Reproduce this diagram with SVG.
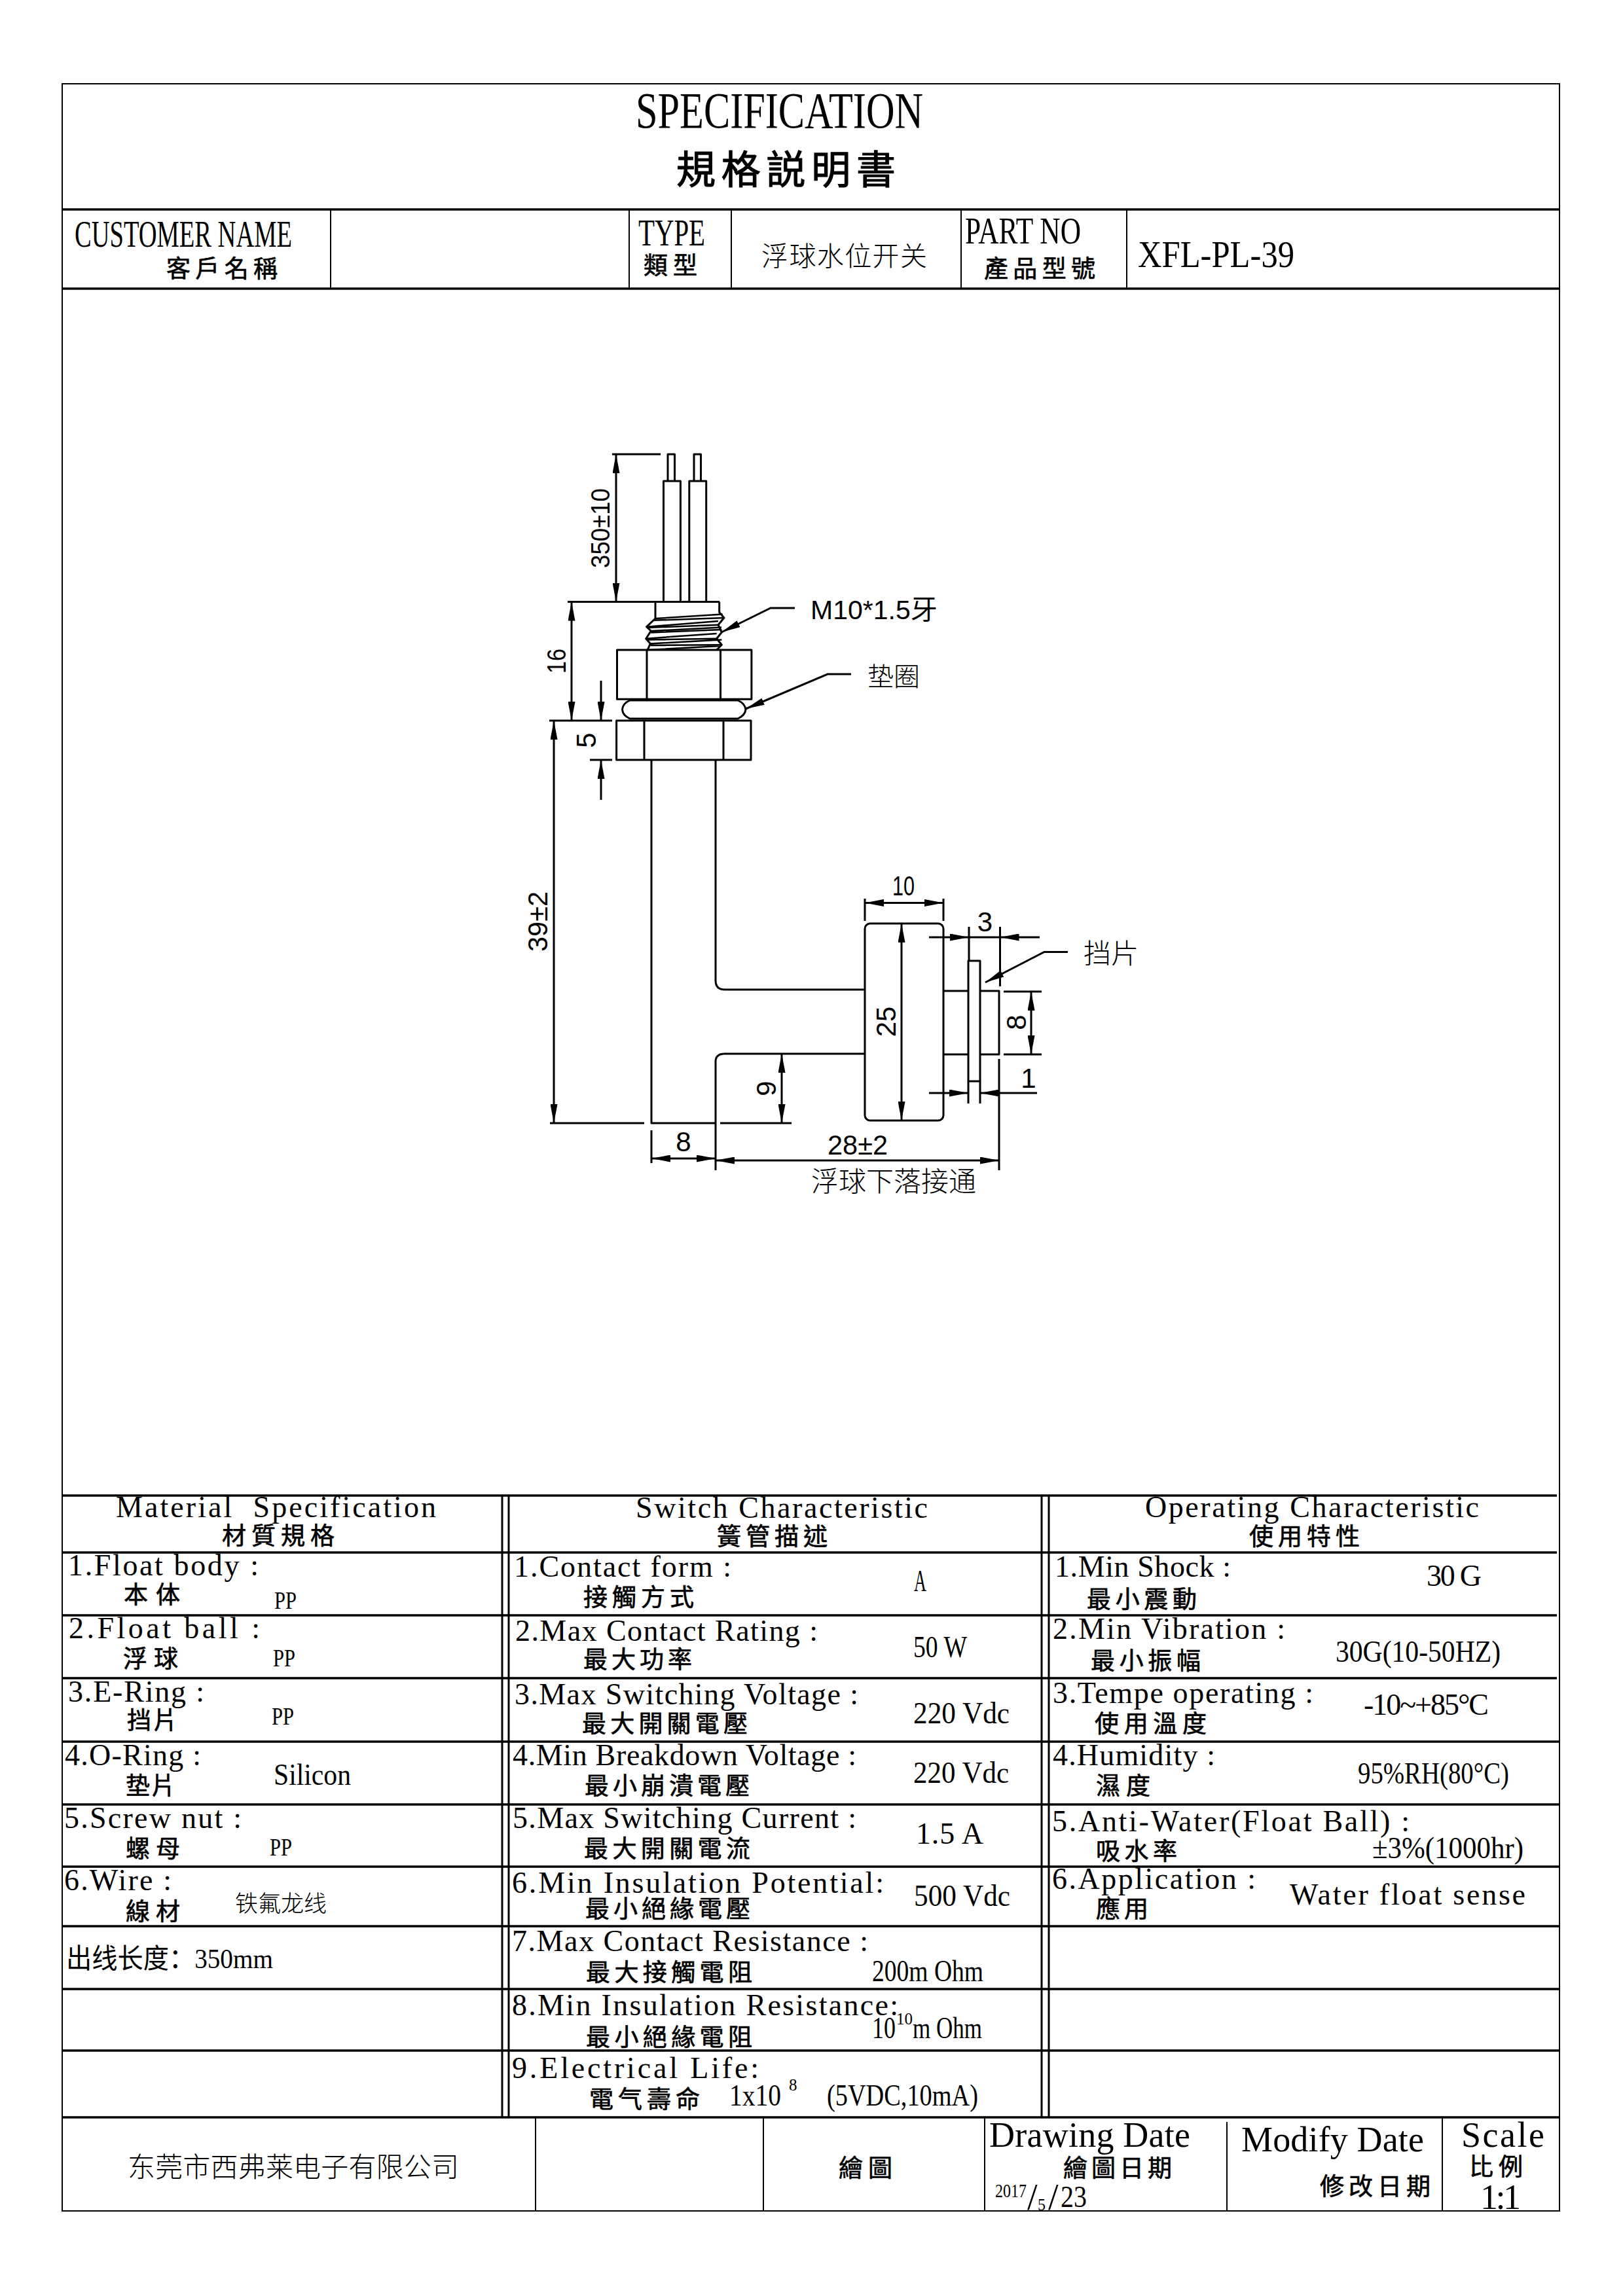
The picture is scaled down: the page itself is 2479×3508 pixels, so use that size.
<svg xmlns="http://www.w3.org/2000/svg" width="2479" height="3508" viewBox="0 0 2479 3508">
<style>
text{fill:#000}
.l{font-family:"Liberation Serif","Noto Sans CJK TC",serif;font-size:46px}
.cap{font-family:"Liberation Serif","Noto Sans CJK SC",serif;font-size:56px}
.big{font-family:"Liberation Serif","Noto Sans CJK TC",serif;font-size:54px}
.pp{font-family:"Liberation Serif",serif;font-size:38px}
.sup{font-family:"Liberation Serif",serif;font-size:25px}
.c{font-family:"Noto Sans CJK TC",sans-serif;font-size:37px;stroke:#000;stroke-width:.7px}
.t{font-family:"Noto Sans CJK SC",sans-serif;font-size:41px;font-weight:300}
.d{font-family:"Liberation Sans",sans-serif;font-size:37px}
.e{font-family:"Liberation Sans",sans-serif;font-size:42px}
.dc{font-family:"Liberation Sans","Noto Sans CJK SC",sans-serif;font-size:41px}
.g{fill:none;stroke:#000;stroke-width:2}
.g3{fill:none;stroke:#000;stroke-width:3.5}
.p{fill:none;stroke:#000;stroke-width:3;stroke-linejoin:round}
.dm{fill:none;stroke:#000;stroke-width:3}
.ar{marker-end:url(#a)}
.ar2{marker-start:url(#a);marker-end:url(#a)}
</style>
<defs>
<marker id="a" viewBox="0 0 29 11" refX="29" refY="5.5" markerWidth="29" markerHeight="11" markerUnits="userSpaceOnUse" orient="auto-start-reverse"><path d="M0 0L29 5.5L0 11Z" fill="#000"/></marker>
</defs>
<rect width="2479" height="3508" fill="#fff"/>

<g id="frame">
<rect class="g" x="95" y="128" width="2287" height="3250"/>
<path class="g3" d="M95 320H2382M95 441H2382"/>
<path class="g" d="M505 320V441M961 320V441M1117 320V441M1468 320V441M1721 320V441"/>
<path class="g3" d="M95 2285H2378M95 2372H2378M95 2468H2378M95 2564H2378M95 2661H2382M95 2757H2382M95 2852H2382M95 2943H2382M95 3039H2382M95 3133H2382M95 3235H2382"/>
<path class="dm" d="M767 2285V3235M777 2285V3235M1591 2285V3235M1602 2285V3235"/>
<path class="g" d="M818 3235V3378M1166 3235V3378M1504 3235V3378M1874 3242V3378M2203 3235V3378"/>
</g>

<g id="header-text">
<text class="cap" x="971" y="195" style="font-size:78px" textLength="439" lengthAdjust="spacingAndGlyphs">SPECIFICATION</text>
<text class="c" x="1033" y="281" style="font-size:60px;stroke-width:1.2px" textLength="335" lengthAdjust="spacing">規格説明書</text>
<text class="cap" x="114" y="377" textLength="332" lengthAdjust="spacingAndGlyphs">CUSTOMER NAME</text>
<text class="c" x="254" y="424" textLength="170" lengthAdjust="spacing">客戶名稱</text>
<text class="cap" x="975" y="375" textLength="102" lengthAdjust="spacingAndGlyphs">TYPE</text>
<text class="c" x="983" y="419" textLength="82" lengthAdjust="spacing">類型</text>
<text class="t" x="1163" y="406" textLength="253" lengthAdjust="spacing">浮球水位开关</text>
<text class="cap" x="1474" y="372" textLength="177" lengthAdjust="spacingAndGlyphs">PART NO</text>
<text class="c" x="1503" y="424" textLength="170" lengthAdjust="spacing">產品型號</text>
<text class="cap" x="1738" y="408" style="font-size:58px" textLength="239" lengthAdjust="spacingAndGlyphs">XFL-PL-39</text>
</g>

<g id="drawing">
<path class="p" d="M1020 735V694H1030.500V735M1060 735V694H1070.500V735"/>
<path class="p" d="M1013.500 919.500V735H1039.400V919.500M1052.800 919.500V735H1078.700V919.500"/>
<path class="p" d="M867 919.500H1099M1001 919.500V945L987.600 957.700L994.300 964L986.700 975.700L993.400 983.400L989 993M1098.700 919.500V935.500L1105.900 944L1097 954.700L1102.300 966L1094.700 975.700L1102.300 985.300L1094.700 993"/>
<path class="p" style="stroke-width:2.500" d="M1001 945L1103.700 938.600M998.800 947.800L1105.900 944M987.600 957.700L1097 949M989 959L1097 954.700M994.300 964L1102 958.500M994.300 966.500L1102.300 962M986.700 975.700L1094.700 968M987.600 977.600L1094.700 975.700M993.400 983.400L1102.300 977.600M993.400 986L1102.300 985.300M989.800 993L1100 987"/>
<rect class="p" x="942.500" y="993" width="205.400" height="75.300"/>
<path class="p" d="M988 993V1068.300M1100.500 993V1068.300"/>
<path class="p" d="M962 1070H1127Q1138 1075 1139 1084Q1138 1093 1127 1098H962Q951 1093 950.500 1084Q951 1075 962 1070Z"/>
<rect class="p" x="941.600" y="1101" width="205.400" height="60"/>
<path class="p" d="M984 1101V1161M1105 1101V1161"/>
<path class="p" d="M995 1161V1716H1093M1093 1161V1498Q1093 1512 1107 1512H1320M1320 1610H1107Q1093 1610 1093 1622V1788"/>
<rect class="p" x="1321" y="1411" width="120" height="301" rx="8"/>
<path class="p" d="M1441 1514H1479M1497 1514H1526V1611H1497M1479 1611H1441"/>
<rect class="p" x="1479" y="1468" width="18" height="184"/>
</g>

<g id="dimensions">
<path class="dm" d="M935 694H1009M840 1716H984M1100 1716H1209M839 1101H935M901 1161H935M1533 1515H1591M1533 1611H1591"/>
<path class="dm" d="M1321 1373V1407M1441 1373V1407M1480 1416V1468M1527.500 1416V1507M1526 1618V1788M1479 1652V1686M1497 1652V1686M995 1727V1777"/>
<path class="dm ar2" d="M941 694V919.500"/>
<path class="dm ar2" d="M873 919.500V1101"/>
<path class="dm ar" d="M918 1040V1101"/>
<path class="dm ar" d="M918 1222V1161"/>
<path class="dm ar2" d="M846 1101V1716"/>
<path class="dm ar2" d="M1321 1379.400H1441"/>
<path class="dm ar2" d="M1377 1411V1712"/>
<path class="dm ar2" d="M1194 1610V1716"/>
<path class="dm ar2" d="M1575 1515V1611"/>
<path class="dm ar" d="M1419 1432H1480"/>
<path class="dm ar" d="M1588 1432H1527.500"/>
<path class="dm" d="M1480 1432H1527.500"/>
<path class="dm ar" d="M1419 1670H1479"/>
<path class="dm ar" d="M1584 1670H1497"/>
<path class="dm ar2" d="M995 1770H1093"/>
<path class="dm ar2" d="M1093 1773H1526"/>
<path class="dm ar" d="M1214 929H1177L1102 966"/>
<path class="dm ar" d="M1300 1030H1264L1139 1083"/>
<path class="dm ar" d="M1631 1454.500H1595L1505 1501"/>
<text class="d" text-anchor="middle" transform="translate(931 807) rotate(-90)" style="font-size:40px" textLength="122" lengthAdjust="spacingAndGlyphs">350±10</text>
<text class="d" text-anchor="middle" transform="translate(864 1010) rotate(-90)" style="font-size:40px" textLength="38" lengthAdjust="spacingAndGlyphs">16</text>
<text class="e" text-anchor="middle" transform="translate(910 1131) rotate(-90)">5</text>
<text class="e" text-anchor="middle" transform="translate(836 1408) rotate(-90)" textLength="92" lengthAdjust="spacingAndGlyphs">39±2</text>
<text class="e" text-anchor="middle" transform="translate(1368 1561) rotate(-90)">25</text>
<text class="e" text-anchor="middle" transform="translate(1185 1663) rotate(-90)">9</text>
<text class="e" text-anchor="middle" transform="translate(1567 1562) rotate(-90)">8</text>
<text class="e" text-anchor="middle" x="1380" y="1368" textLength="34" lengthAdjust="spacingAndGlyphs">10</text>
<text class="e" text-anchor="middle" x="1504.500" y="1423">3</text>
<text class="e" text-anchor="middle" x="1571" y="1662">1</text>
<text class="e" text-anchor="middle" x="1044" y="1759">8</text>
<text class="e" text-anchor="middle" x="1310" y="1764" textLength="92" lengthAdjust="spacingAndGlyphs">28±2</text>
<text class="dc" x="1238" y="946">M10*1.5牙</text>
<text class="t" x="1325" y="1048" style="font-size:40px">垫圈</text>
<text class="t" x="1655" y="1472" style="font-size:42px">挡片</text>
<text class="t" x="1239" y="1820" style="font-size:42px">浮球下落接通</text>
</g>

<g id="material">
<text class="l" x="177" y="2318" textLength="489" lengthAdjust="spacing" xml:space="preserve">Material  Specification</text>
<text class="c" x="339" y="2360" textLength="172" lengthAdjust="spacing">材質規格</text>
<text class="l" x="104" y="2407" textLength="291" lengthAdjust="spacing">1.Float body :</text>
<text class="c" x="189" y="2450" textLength="86" lengthAdjust="spacing">本体</text>
<text class="pp" x="419" y="2458" textLength="34" lengthAdjust="spacingAndGlyphs">PP</text>
<text class="l" x="105" y="2503" textLength="292" lengthAdjust="spacing">2.Float ball :</text>
<text class="c" x="188" y="2548" textLength="84" lengthAdjust="spacing">浮球</text>
<text class="pp" x="417" y="2546" textLength="34" lengthAdjust="spacingAndGlyphs">PP</text>
<text class="l" x="104" y="2600" textLength="208" lengthAdjust="spacing">3.E-Ring :</text>
<text class="c" x="194" y="2642" textLength="77" lengthAdjust="spacing">挡片</text>
<text class="pp" x="415" y="2635" textLength="34" lengthAdjust="spacingAndGlyphs">PP</text>
<text class="l" x="99" y="2697" textLength="208" lengthAdjust="spacing">4.O-Ring :</text>
<text class="c" x="192" y="2742" textLength="76" lengthAdjust="spacing">垫片</text>
<text class="l" x="418" y="2727" textLength="118" lengthAdjust="spacingAndGlyphs">Silicon</text>
<text class="l" x="98" y="2793" textLength="271" lengthAdjust="spacing">5.Screw nut :</text>
<text class="c" x="192" y="2838" textLength="83" lengthAdjust="spacing">螺母</text>
<text class="pp" x="412" y="2835" textLength="34" lengthAdjust="spacingAndGlyphs">PP</text>
<text class="l" x="98" y="2888" textLength="164" lengthAdjust="spacing">6.Wire :</text>
<text class="c" x="192" y="2934" textLength="83" lengthAdjust="spacing">線材</text>
<text class="t" x="359" y="2921" style="font-size:35px" textLength="140" lengthAdjust="spacing">铁氟龙线</text>
<text class="l" x="101" y="3007" style="font-family:'Liberation Serif','Noto Sans CJK SC',serif;font-size:42px" textLength="316" lengthAdjust="spacingAndGlyphs">出线长度：350mm</text>
</g>

<g id="switch">
<text class="l" x="971" y="2319" textLength="446" lengthAdjust="spacing">Switch Characteristic</text>
<text class="c" x="1095" y="2361" textLength="169" lengthAdjust="spacing">簧管描述</text>
<text class="l" x="785" y="2409" textLength="332" lengthAdjust="spacing">1.Contact form :</text>
<text class="c" x="891" y="2454" textLength="169" lengthAdjust="spacing">接觸方式</text>
<text class="l" x="1396" y="2431" textLength="19" lengthAdjust="spacingAndGlyphs">A</text>
<text class="l" x="787" y="2507" textLength="462" lengthAdjust="spacing">2.Max Contact Rating :</text>
<text class="c" x="891" y="2549" textLength="166" lengthAdjust="spacing">最大功率</text>
<text class="l" x="1395" y="2532" textLength="82" lengthAdjust="spacingAndGlyphs">50 W</text>
<text class="l" x="786" y="2604" textLength="525" lengthAdjust="spacing">3.Max Switching Voltage :</text>
<text class="c" x="889" y="2647" textLength="253" lengthAdjust="spacing">最大開關電壓</text>
<text class="l" x="1395" y="2633" textLength="147" lengthAdjust="spacingAndGlyphs">220 Vdc</text>
<text class="l" x="783" y="2697" textLength="525" lengthAdjust="spacing">4.Min Breakdown Voltage :</text>
<text class="c" x="893" y="2742" textLength="252" lengthAdjust="spacing">最小崩潰電壓</text>
<text class="l" x="1395" y="2724" textLength="146" lengthAdjust="spacingAndGlyphs">220 Vdc</text>
<text class="l" x="783" y="2793" textLength="525" lengthAdjust="spacing">5.Max Switching Current :</text>
<text class="c" x="892" y="2838" textLength="254" lengthAdjust="spacing">最大開關電流</text>
<text class="l" x="1399" y="2817" textLength="103" lengthAdjust="spacing">1.5 A</text>
<text class="l" x="782" y="2892" textLength="568" lengthAdjust="spacing">6.Min Insulation Potential:</text>
<text class="c" x="894" y="2930" textLength="252" lengthAdjust="spacing">最小絕緣電壓</text>
<text class="l" x="1396" y="2912" textLength="147" lengthAdjust="spacingAndGlyphs">500 Vdc</text>
<text class="l" x="782" y="2981" textLength="544" lengthAdjust="spacing">7.Max Contact Resistance :</text>
<text class="c" x="895" y="3027" textLength="254" lengthAdjust="spacing">最大接觸電阻</text>
<text class="l" x="1332" y="3027" textLength="170" lengthAdjust="spacingAndGlyphs">200m Ohm</text>
<text class="l" x="782" y="3079" textLength="590" lengthAdjust="spacing">8.Min Insulation Resistance:</text>
<text class="c" x="895" y="3126" textLength="254" lengthAdjust="spacing">最小絕緣電阻</text>
<text class="l" x="1332" y="3114" textLength="36" lengthAdjust="spacingAndGlyphs">10</text>
<text class="sup" x="1369" y="3093" textLength="25" lengthAdjust="spacingAndGlyphs">10</text>
<text class="l" x="1394" y="3114" textLength="106" lengthAdjust="spacingAndGlyphs">m Ohm</text>
<text class="l" x="782" y="3175" textLength="377" lengthAdjust="spacing">9.Electrical Life:</text>
<text class="c" x="900" y="3221" textLength="169" lengthAdjust="spacing">電气壽命</text>
<text class="l" x="1114" y="3217" textLength="79" lengthAdjust="spacingAndGlyphs">1x10</text>
<text class="sup" x="1205" y="3194">8</text>
<text class="l" x="1263" y="3217" textLength="231" lengthAdjust="spacingAndGlyphs">(5VDC,10mA)</text>
</g>

<g id="operating">
<text class="l" x="1749" y="2318" textLength="510" lengthAdjust="spacing">Operating Characteristic</text>
<text class="c" x="1908" y="2361" textLength="169" lengthAdjust="spacing">使用特性</text>
<text class="l" x="1611" y="2409" textLength="269" lengthAdjust="spacing">1.Min Shock :</text>
<text class="c" x="1660" y="2457" textLength="168" lengthAdjust="spacing">最小震動</text>
<text class="l" x="2179" y="2423" textLength="84" lengthAdjust="spacing">30 G</text>
<text class="l" x="1608" y="2504" textLength="355" lengthAdjust="spacing">2.Min Vibration :</text>
<text class="c" x="1666" y="2551" textLength="168" lengthAdjust="spacing">最小振幅</text>
<text class="l" x="2040" y="2539" textLength="252" lengthAdjust="spacingAndGlyphs">30G(10-50HZ)</text>
<text class="l" x="1608" y="2602" textLength="398" lengthAdjust="spacing">3.Tempe operating :</text>
<text class="c" x="1672" y="2647" textLength="171" lengthAdjust="spacing">使用溫度</text>
<text class="l" x="2083" y="2620" textLength="191" lengthAdjust="spacing">-10~+85°C</text>
<text class="l" x="1608" y="2697" textLength="248" lengthAdjust="spacing">4.Humidity :</text>
<text class="c" x="1674" y="2742" textLength="83" lengthAdjust="spacing">濕度</text>
<text class="l" x="2074" y="2725" textLength="231" lengthAdjust="spacingAndGlyphs">95%RH(80°C)</text>
<text class="l" x="1607" y="2798" textLength="546" lengthAdjust="spacing">5.Anti-Water(Float Ball) :</text>
<text class="c" x="1674" y="2842" textLength="124" lengthAdjust="spacing">吸水率</text>
<text class="l" x="2096" y="2839" textLength="231" lengthAdjust="spacingAndGlyphs">±3%(1000hr)</text>
<text class="l" x="1607" y="2886" textLength="311" lengthAdjust="spacing">6.Application :</text>
<text class="c" x="1674" y="2930" textLength="80" lengthAdjust="spacing">應用</text>
<text class="l" x="1970" y="2910" textLength="360" lengthAdjust="spacing">Water float sense</text>
</g>

<g id="title-block">
<text class="t" x="195" y="3326" style="font-size:42px" textLength="506" lengthAdjust="spacing">东莞市西弗莱电子有限公司</text>
<text class="c" x="1281" y="3326" textLength="82" lengthAdjust="spacing">繪圖</text>
<text class="big" x="1511" y="3280" textLength="307" lengthAdjust="spacing">Drawing Date</text>
<text class="c" x="1624" y="3326" textLength="166" lengthAdjust="spacing">繪圖日期</text>
<text class="pp" x="1520" y="3357" style="font-size:30px" textLength="48" lengthAdjust="spacingAndGlyphs">2017</text>
<text class="big" x="1569" y="3376" style="font-size:56px">/</text>
<text class="sup" x="1585" y="3377" textLength="12" lengthAdjust="spacingAndGlyphs">5</text>
<text class="big" x="1601" y="3376" style="font-size:56px">/</text>
<text class="big" x="1620" y="3372" style="font-size:46px" textLength="40" lengthAdjust="spacingAndGlyphs">23</text>
<text class="big" x="1896" y="3287" textLength="279" lengthAdjust="spacing">Modify Date</text>
<text class="c" x="2016" y="3354" textLength="169" lengthAdjust="spacing">修改日期</text>
<text class="big" x="2232" y="3280" textLength="127" lengthAdjust="spacing">Scale</text>
<text class="c" x="2244" y="3324" textLength="82" lengthAdjust="spacing">比例</text>
<text class="big" x="2261" y="3375" textLength="62" lengthAdjust="spacing">1:1</text>
</g>
</svg>
